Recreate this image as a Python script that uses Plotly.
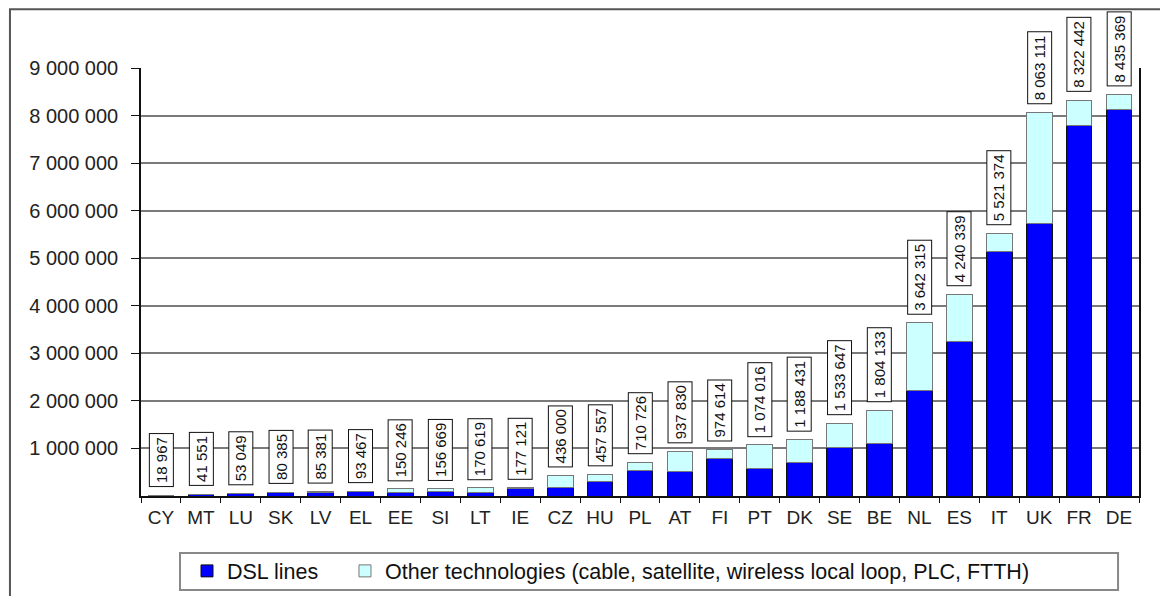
import plotly.graph_objects as go

countries = ["CY", "MT", "LU", "SK", "LV", "EL", "EE", "SI", "LT", "IE", "CZ", "HU", "PL",
             "AT", "FI", "PT", "DK", "SE", "BE", "NL", "ES", "IT", "UK", "FR", "DE"]
totals = [18967, 41551, 53049, 80385, 85381, 93467, 150246, 156669, 170619, 177121,
          436000, 457557, 710726, 937830, 974614, 1074016, 1188431, 1533647, 1804133,
          3642315, 4240339, 5521374, 8063111, 8322442, 8435369]
dsl = [14000, 35000, 50000, 65000, 70000, 90000, 70000, 100000, 75000, 150000,
       170000, 300000, 530000, 520000, 780000, 570000, 710000, 1030000, 1110000,
       2210000, 3250000, 5150000, 5730000, 7790000, 8130000]
other = [t - d for t, d in zip(totals, dsl)]

ytick_vals = [1000000, 2000000, 3000000, 4000000, 5000000, 6000000, 7000000, 8000000, 9000000]
ytick_text = ["1 000 000", "2 000 000", "3 000 000", "4 000 000", "5 000 000",
              "6 000 000", "7 000 000", "8 000 000", "9 000 000"]


def fmt(v):
    return f"{v:,}".replace(",", " ")


fig = go.Figure()
fig.add_trace(go.Bar(x=countries, y=dsl, name="DSL lines", legend="legend",
                     marker=dict(color="#0000FF", line=dict(color="#111111", width=1))))
fig.add_trace(go.Bar(x=countries, y=other, legend="legend2",
                     name="Other technologies (cable, satellite, wireless local loop, PLC, FTTH)",
                     marker=dict(color="#CCFFFF", line=dict(color="#777777", width=1))))

for c, t in zip(countries, totals):
    fig.add_annotation(x=c, y=t, text=fmt(t), textangle=-90, showarrow=False,
                       xref="x", yref="y", yanchor="bottom", yshift=8,
                       font=dict(family="Arial, Liberation Sans", size=15, color="#111111"),
                       bgcolor="white", bordercolor="#111111", borderwidth=1, borderpad=3)

# outer frame and legend box
fig.add_shape(type="rect", xref="paper", yref="paper",
              x0=-0.1313, x1=1.06, y0=-0.3, y1=1.137,
              line=dict(color="#555555", width=2), layer="below")
fig.add_shape(type="rect", xref="paper", yref="paper",
              x0=0.0391, x1=0.979, y0=-0.2196, y1=-0.1332,
              line=dict(color="#888888", width=2), layer="below")

legend_common = dict(orientation="h", xanchor="left", y=-0.175, yanchor="middle",
                     font=dict(size=21.5, color="#111111"), bgcolor="rgba(0,0,0,0)",
                     borderwidth=0)

fig.update_layout(
    width=1168, height=596,
    margin=dict(l=133, r=37, t=60, b=108, autoexpand=False),
    paper_bgcolor="white", plot_bgcolor="white",
    barmode="stack", bargap=0.356,
    font=dict(family="Arial, Liberation Sans", color="#222222"),
    showlegend=True,
    legend=dict(x=0.0461, **legend_common),
    legend2=dict(x=0.2044, **legend_common),
)
fig.update_xaxes(showline=True, linecolor="#111111", linewidth=1.5,
                 ticks="outside", tickson="boundaries", ticklen=5, tickcolor="#111111",
                 tickfont=dict(size=19, color="#222222"), ticklabelstandoff=3,
                 showgrid=False, automargin=False)
fig.update_yaxes(range=[0, 9000000], tickvals=ytick_vals, ticktext=ytick_text,
                 showline=True, linecolor="#111111", linewidth=1.5, mirror=True,
                 ticks="outside", ticklen=8, tickcolor="#111111",
                 tickfont=dict(size=20, color="#222222"), ticklabelstandoff=9,
                 showgrid=True, gridcolor="#7a7a7a", gridwidth=1.5, zeroline=False,
                 automargin=False)

fig.write_html("out.html")
